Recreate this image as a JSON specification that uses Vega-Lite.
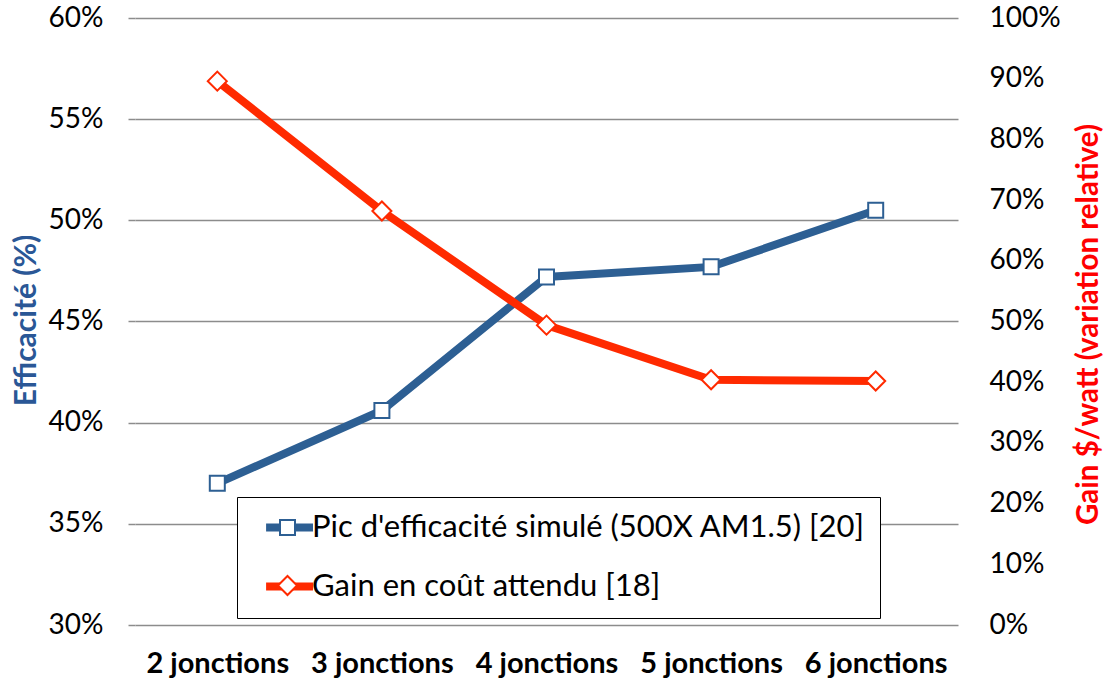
{
  "$schema": "https://vega.github.io/schema/vega-lite/v6.json",
  "width": 823,
  "height": 607,
  "autosize": "none",
  "padding": {"left": 135, "top": 18, "right": 148, "bottom": 57},
  "background": "white",
  "config": {"view": {"stroke": null}, "font": "Lato"},
  "data": {
    "values": [
      {"jonction": "2 jonctions", "serie": "Pic d'efficacité simulé (500X AM1.5) [20]", "valeur": 0.370},
      {"jonction": "3 jonctions", "serie": "Pic d'efficacité simulé (500X AM1.5) [20]", "valeur": 0.406},
      {"jonction": "4 jonctions", "serie": "Pic d'efficacité simulé (500X AM1.5) [20]", "valeur": 0.472},
      {"jonction": "5 jonctions", "serie": "Pic d'efficacité simulé (500X AM1.5) [20]", "valeur": 0.477},
      {"jonction": "6 jonctions", "serie": "Pic d'efficacité simulé (500X AM1.5) [20]", "valeur": 0.505},
      {"jonction": "2 jonctions", "serie": "Gain en coût attendu [18]", "valeur": 0.896},
      {"jonction": "3 jonctions", "serie": "Gain en coût attendu [18]", "valeur": 0.682},
      {"jonction": "4 jonctions", "serie": "Gain en coût attendu [18]", "valeur": 0.494},
      {"jonction": "5 jonctions", "serie": "Gain en coût attendu [18]", "valeur": 0.404},
      {"jonction": "6 jonctions", "serie": "Gain en coût attendu [18]", "valeur": 0.402}
    ]
  },
  "encoding": {
    "x": {
      "field": "jonction", "type": "ordinal",
      "scale": {"type": "point", "padding": 0.5},
      "axis": {"title": null, "labelAngle": 0, "domain": false, "ticks": false, "tickSize": 0, "grid": false,
               "labelFont": "Lato", "labelFontWeight": "bold", "labelFontSize": 29, "labelColor": "black", "labelPadding": 24}
    }
  },
  "layer": [
    {
      "transform": [{"filter": "datum.serie === \"Pic d'efficacité simulé (500X AM1.5) [20]\""}],
      "encoding": {
        "y": {
          "field": "valeur", "type": "quantitative",
          "scale": {"domain": [0.3, 0.6], "nice": false, "zero": false},
          "axis": {
            "title": "Efficacité (%)", "orient": "left", "format": ".0%",
            "values": [0.3, 0.35, 0.4, 0.45, 0.5, 0.55, 0.6],
            "domain": false, "grid": true, "gridColor": "#8c8c8c", "gridWidth": 1.5,
            "ticks": true, "tickSize": 7, "tickColor": "#8c8c8c", "tickWidth": 1.5,
            "labelFont": "Lato", "labelFontSize": 28, "labelColor": "black", "labelPadding": 25,
            "titleFont": "Lato", "titleFontSize": 30, "titleFontWeight": "bold", "titleColor": "#2A5796",
            "titleAngle": -90, "titleX": -109, "titleY": 302, "titleAlign": "center", "titleBaseline": "middle"
          }
        }
      },
      "layer": [
        {"mark": {"type": "line", "strokeWidth": 8},
         "encoding": {"stroke": {"field": "serie", "type": "nominal",
           "sort": ["Pic d'efficacité simulé (500X AM1.5) [20]", "Gain en coût attendu [18]"],
           "scale": {"range": ["#2D5F93", "#FF2A00"]},
           "legend": {"title": null, "orient": "none", "legendX": 102, "legendY": 479, "fillColor": "white", "strokeColor": "black", "padding": 15,
             "symbolType": "M-0.3,0L9.7,0", "symbolStrokeWidth": 8, "symbolSize": 88, "rowPadding": 26,
             "labelFont": "Lato", "labelFontSize": 31, "labelColor": "black", "labelOffset": 29, "labelLimit": 700, "zindex": 1}}}},
        {"mark": {"type": "point", "filled": false, "fill": "white", "fillOpacity": 1, "opacity": 1, "strokeWidth": 2},
         "encoding": {
           "color": {"field": "serie", "type": "nominal",
             "scale": {"domain": ["Pic d'efficacité simulé (500X AM1.5) [20]", "Gain en coût attendu [18]"], "range": ["#2D5F93", "#FF2A00"]},
             "legend": {"title": null, "orient": "none", "legendX": 122, "legendY": 479, "padding": 15,
               "symbolFillColor": "white", "symbolStrokeWidth": 2, "symbolSize": 160, "symbolOpacity": 1, "rowPadding": 26,
               "labelFont": "Lato", "labelFontSize": 31, "labelColor": "transparent", "labelLimit": 700, "zindex": 2}},
           "shape": {"field": "serie", "type": "nominal",
             "scale": {"domain": ["Pic d'efficacité simulé (500X AM1.5) [20]", "Gain en coût attendu [18]"], "range": ["square", "diamond"]}},
           "size": {"field": "serie", "type": "nominal",
             "scale": {"domain": ["Pic d'efficacité simulé (500X AM1.5) [20]", "Gain en coût attendu [18]"], "range": [225, 361]}, "legend": null}
         }}
      ]
    },
    {
      "transform": [{"filter": "datum.serie === 'Gain en coût attendu [18]'"}],
      "encoding": {
        "y": {
          "field": "valeur", "type": "quantitative",
          "scale": {"domain": [0, 1], "nice": false},
          "axis": {
            "title": "Gain $/watt (variation relative)", "orient": "right", "format": ".0%",
            "values": [0, 0.1, 0.2, 0.3, 0.4, 0.5, 0.6, 0.7, 0.8, 0.9, 1],
            "domain": false, "grid": false, "ticks": false, "tickSize": 0,
            "labelFont": "Lato", "labelFontSize": 28, "labelColor": "black", "labelPadding": 31,
            "titleFont": "Lato", "titleFontSize": 29.5, "titleFontWeight": "bold", "titleColor": "#FF0000",
            "titleAngle": -90, "titleX": 130, "titleY": 306, "titleAlign": "center", "titleBaseline": "middle"
          }
        }
      },
      "layer": [
        {"mark": {"type": "line", "strokeWidth": 8},
         "encoding": {"stroke": {"field": "serie", "type": "nominal",
           "sort": ["Pic d'efficacité simulé (500X AM1.5) [20]", "Gain en coût attendu [18]"]}}},
        {"mark": {"type": "point", "filled": false, "fill": "white", "fillOpacity": 1, "opacity": 1, "strokeWidth": 2},
         "encoding": {
           "color": {"field": "serie", "type": "nominal"},
           "shape": {"field": "serie", "type": "nominal"},
           "size": {"field": "serie", "type": "nominal", "legend": null}
         }}
      ]
    }
  ],
  "resolve": {"scale": {"y": "independent"}}
}
